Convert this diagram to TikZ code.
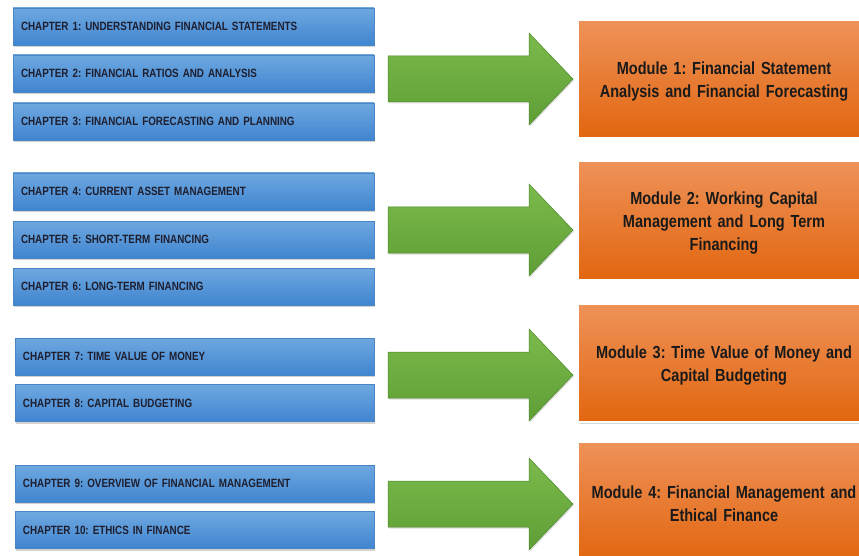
\documentclass[tikz,border=0pt]{standalone}
\usepackage{fontspec}
\setmainfont{Liberation Sans}
\newfontfamily\chapfont[FakeStretch=0.82]{Liberation Sans Bold}
\newfontfamily\modfont[FakeStretch=0.83]{Liberation Sans Bold}
\usetikzlibrary{shadows}
\frenchspacing

\definecolor{chapTop}{HTML}{6EA8E0}
\definecolor{chapBot}{HTML}{4085D0}
\definecolor{chapEdge}{HTML}{4A86C6}
\definecolor{modTop}{HTML}{EE9259}
\definecolor{modBot}{HTML}{E2660F}
\definecolor{arrTop}{HTML}{7CBA4C}
\definecolor{arrBot}{HTML}{5E9E35}
\definecolor{arrEdge}{HTML}{4C8A2A}
\definecolor{chapInk}{HTML}{1E1E2E}
\definecolor{modInk}{HTML}{1A1A1A}

\begin{document}
\begin{tikzpicture}[x=1pt,y=-1pt,
  chapbox/.style={rectangle, minimum height=37pt, inner ysep=0pt,
    inner xsep=8pt, align=left,
    top color=chapTop, bottom color=chapBot, draw=chapEdge, line width=0.3pt,
    text=chapInk, font=\chapfont\fontsize{12}{14}\selectfont,
    drop shadow={shadow xshift=0.5pt, shadow yshift=-2pt, opacity=0.35}},
  modbox/.style={rectangle, minimum width=292pt, minimum height=118pt,
    top color=modTop, bottom color=modBot, draw=white, line width=2pt,
    drop shadow={shadow xshift=1pt, shadow yshift=-1.5pt, opacity=0.3}},
  modtext/.style={text width=280pt, align=center, yshift=-3pt,
    text=modInk, font=\modfont\fontsize{17.5}{23}\selectfont},
  blockarrow/.style={top color=arrTop, bottom color=arrBot, draw=arrEdge,
    line width=0.5pt, line join=miter,
    drop shadow={shadow xshift=1pt, shadow yshift=-1.5pt, opacity=0.25}}
]
\useasboundingbox (0,0) rectangle (859,556);
\clip (0,0) rectangle (859,556);
\fill[white] (0,0) rectangle (859,556);

% chapter boxes, first two groups
\begin{scope}[every node/.append style={text width=345pt}]
\node[chapbox] (c1) at (193.5,26.5) {CHAPTER 1: UNDERSTANDING FINANCIAL STATEMENTS};
\node[chapbox] (c2) at (193.5,73.5) {CHAPTER 2: FINANCIAL RATIOS AND ANALYSIS};
\node[chapbox] (c3) at (193.5,121.5) {CHAPTER 3: FINANCIAL FORECASTING AND PLANNING};
\node[chapbox] (c4) at (193.5,191.5) {CHAPTER 4: CURRENT ASSET MANAGEMENT};
\node[chapbox] (c5) at (193.5,239.5) {CHAPTER 5: SHORT-TERM FINANCING};
\node[chapbox] (c6) at (193.5,286.5) {CHAPTER 6: LONG-TERM FINANCING};
\end{scope}

% chapter boxes, last two groups
\begin{scope}[every node/.append style={text width=343pt}]
\node[chapbox] (c7) at (194.5,356.5) {CHAPTER 7: TIME VALUE OF MONEY};
\node[chapbox] (c8) at (194.5,403) {CHAPTER 8: CAPITAL BUDGETING};
\node[chapbox] (c9) at (194.5,483.5) {CHAPTER 9: OVERVIEW OF FINANCIAL MANAGEMENT};
\node[chapbox] (c10) at (194.5,530) {CHAPTER 10: ETHICS IN FINANCE};
\end{scope}

% module boxes, titles set as centred labels
\node[modbox, label={[modtext]center:{Module 1: Financial Statement\\Analysis and Financial Forecasting}}] (m1) at (724,79) {};
\node[modbox, label={[modtext]center:{Module 2: Working Capital\\Management and Long Term\\Financing}}] (m2) at (724,220.5) {};
\node[modbox, label={[modtext]center:{Module 3: Time Value of Money and\\Capital Budgeting}}] (m3) at (724,363) {};
\node[modbox, label={[modtext]center:{Module 4: Financial Management and\\Ethical Finance}}] (m4) at (724,501) {};

% block arrows from each chapter group to its module
\foreach \cy/\m in {79/m1, 230/m2, 375/m3, 504/m4} {
  \draw[blockarrow] (388,\cy-23) -- (529,\cy-23) -- (529,\cy-46)
    -- ([xshift=-4pt]\m.west |- 0,\cy) -- (529,\cy+46) -- (529,\cy+23)
    -- (388,\cy+23) -- cycle;
}
\end{tikzpicture}
\end{document}
